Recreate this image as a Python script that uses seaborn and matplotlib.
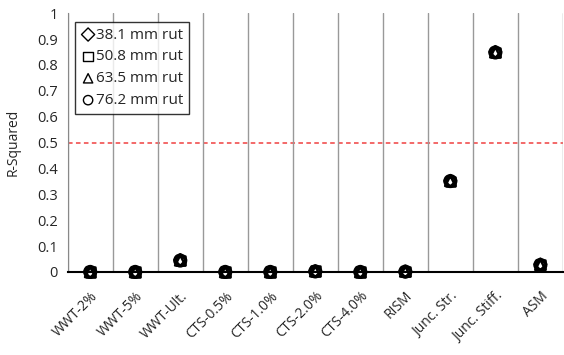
import pandas as pd
import seaborn as sns
import matplotlib.pyplot as plt
from matplotlib.ticker import FixedLocator

# Categories and R-squared values for each rut depth.
categories = ['WWT-2%', 'WWT-5%', 'WWT-Ult.', 'CTS-0.5%', 'CTS-1.0%', 'CTS-2.0%',
              'CTS-4.0%', 'RISM', 'Junc. Str.', 'Junc. Stiff.', 'ASM']
rut_38 = [0.000, 0.000, 0.046, 0.000, 0.000, 0.003, 0.000, 0.002, 0.352, 0.850, 0.029]
rut_51 = [0.000, 0.000, 0.045, 0.000, 0.000, 0.003, 0.000, 0.002, 0.350, 0.849, 0.028]
rut_64 = [0.000, 0.000, 0.045, 0.000, 0.000, 0.003, 0.000, 0.002, 0.352, 0.849, 0.028]
rut_76 = [0.000, 0.000, 0.044, 0.000, 0.000, 0.002, 0.000, 0.001, 0.351, 0.848, 0.027]
series_names = ['38.1 mm rut', '50.8 mm rut', '63.5 mm rut', '76.2 mm rut']
y_ticks = [0, 0.1, 0.2, 0.3, 0.4, 0.5, 0.6, 0.7, 0.8, 0.9, 1]
y_tick_labels = ['0', '0.1', '0.2', '0.3', '0.4', '0.5', '0.6', '0.7', '0.8', '0.9', '1']

frames = []
for name, vals in zip(series_names, [rut_38, rut_51, rut_64, rut_76]):
    frames.append(pd.DataFrame({'category': categories, 'r2': vals, 'rut': name}))
df = pd.concat(frames, ignore_index=True)
df['pos'] = df['category'].map({c: i for i, c in enumerate(categories)})

sns.set_style('white')
plt.rcParams['font.family'] = ['Open Sans', 'DejaVu Sans']

fig, ax = plt.subplots(figsize=(5.64, 3.55), dpi=100)

markers = {'38.1 mm rut': 'D', '50.8 mm rut': 's', '63.5 mm rut': '^', '76.2 mm rut': 'o'}
sizes_by = {'38.1 mm rut': 35, '50.8 mm rut': 45, '63.5 mm rut': 55, '76.2 mm rut': 70}
for name in series_names:
    sub = df[df['rut'] == name]
    sns.scatterplot(data=sub, x='pos', y='r2', marker=markers[name], s=sizes_by[name],
                    facecolors='none', edgecolor='black', linewidth=1.8, ax=ax,
                    label=name, zorder=3, clip_on=False)

# Threshold line (sits behind the vertical gridlines, as in the original)
ax.axhline(0.5, color='#f04040', linestyle=(0, (3, 2.2)), linewidth=1.1, zorder=0.3)

ax.set_xlim(-0.5, len(categories) - 0.5)
ax.set_ylim(0, 1)
ax.set_yticks(y_ticks)
ax.set_yticklabels(y_tick_labels)

ax.set_xticks(range(len(categories)))
ax.set_xticklabels(categories, rotation=45, ha='right', rotation_mode='anchor')
ax.xaxis.set_minor_locator(FixedLocator([i + 0.5 for i in range(-1, len(categories))]))
ax.tick_params(axis='x', which='major', length=0, labelsize=10, pad=12)
ax.tick_params(axis='x', which='minor', length=5, width=1, color='black', direction='out')
ax.tick_params(axis='y', which='major', length=4, width=1, color='#888888', labelsize=10.5, pad=3)
ax.grid(axis='x', which='minor', color='#999999', linewidth=1)
ax.grid(axis='y', visible=False)
ax.grid(axis='x', which='major', visible=False)

for side in ['top', 'right']:
    ax.spines[side].set_visible(False)
ax.spines['left'].set_color('#888888')
ax.spines['bottom'].set_color('black')
ax.spines['bottom'].set_linewidth(1.5)
ax.spines['bottom'].set_zorder(2.5)

ax.set_xlabel('')
ax.set_ylabel('R-Squared', fontsize=10, labelpad=12)

leg = ax.legend(loc='upper left', bbox_to_anchor=(0.015, 0.965), frameon=True, fancybox=False,
                edgecolor='black', fontsize=11, handletextpad=0.05, labelspacing=0.45,
                borderpad=0.35, handlelength=1.0, borderaxespad=0)
leg.get_frame().set_linewidth(1)
for h in leg.legend_handles:
    h.set_sizes([45])
    h.set_linewidth(1)

plt.subplots_adjust(left=0.12, right=0.998, top=0.963, bottom=0.234)
plt.savefig('out.png', dpi=100)
